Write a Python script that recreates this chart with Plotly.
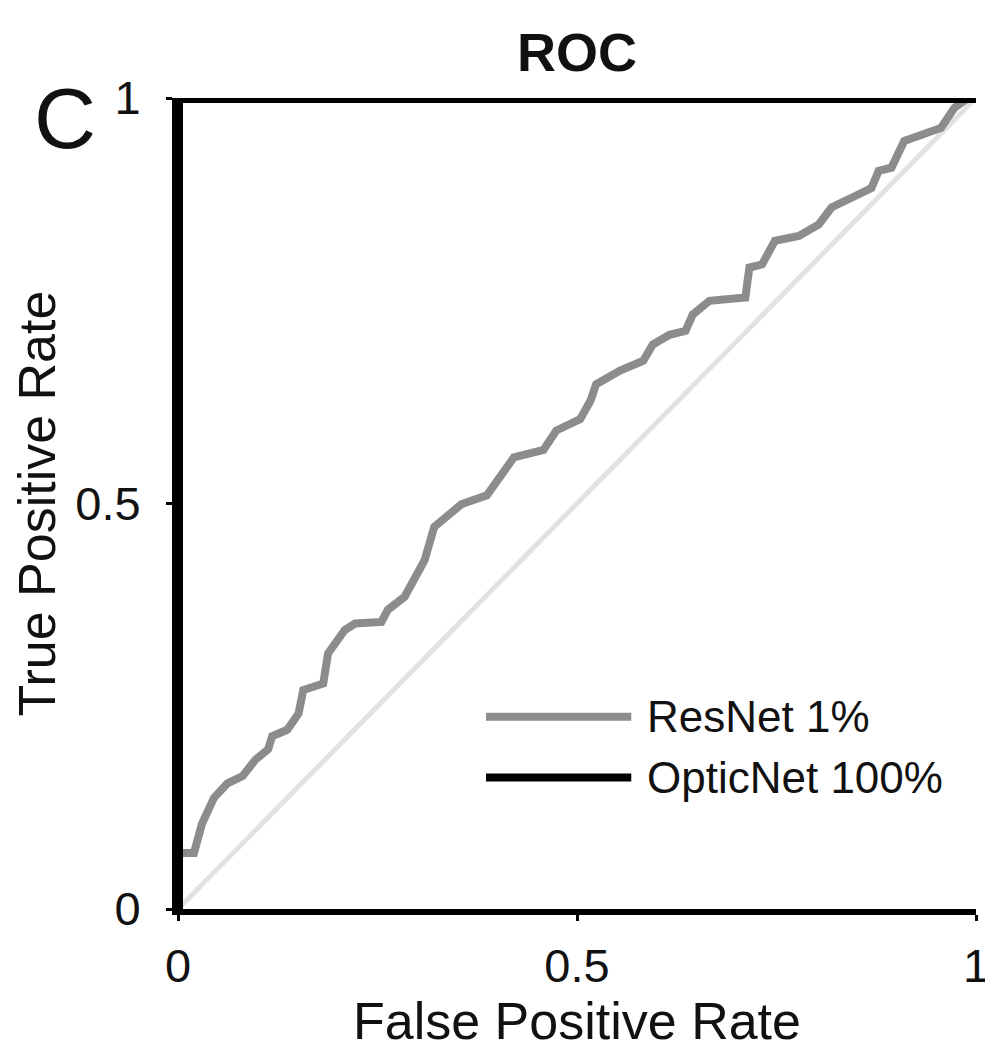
import plotly.graph_objects as go

# ResNet 1% ROC curve
resnet_fpr = [0.0, 0.0, 0.006, 0.02, 0.03, 0.045, 0.062, 0.081, 0.097, 0.113, 0.118, 0.137,
              0.151, 0.157, 0.182, 0.188, 0.209, 0.222, 0.255, 0.263, 0.284, 0.309, 0.321,
              0.337, 0.355, 0.387, 0.400, 0.421, 0.437, 0.458, 0.474, 0.504, 0.517, 0.524,
              0.554, 0.583, 0.595, 0.616, 0.636, 0.645, 0.666, 0.711, 0.716, 0.732, 0.748,
              0.778, 0.803, 0.819, 0.844, 0.869, 0.878, 0.894, 0.910, 0.940, 0.956, 0.973,
              0.990, 1.0]
resnet_tpr = [0.0, 0.065, 0.069, 0.069, 0.105, 0.137, 0.155, 0.164, 0.184, 0.197, 0.213, 0.221,
              0.241, 0.270, 0.278, 0.315, 0.344, 0.352, 0.354, 0.369, 0.385, 0.430, 0.471,
              0.483, 0.499, 0.510, 0.529, 0.557, 0.561, 0.566, 0.590, 0.604, 0.627, 0.647,
              0.664, 0.676, 0.696, 0.708, 0.713, 0.733, 0.750, 0.754, 0.791, 0.795, 0.824,
              0.830, 0.844, 0.865, 0.877, 0.889, 0.910, 0.914, 0.947, 0.959, 0.963, 0.988,
              1.0, 1.0]

# OpticNet 100% ROC curve (perfect classifier)
opticnet_fpr = [0.0, 0.0, 1.0]
opticnet_tpr = [0.0, 1.0, 1.0]

# chance diagonal
chance_fpr = [0.0, 1.0]
chance_tpr = [0.0, 1.0]

tick_vals = [0, 0.5, 1]
tick_text = ["0", "0.5", "1"]

series_names = ["ResNet 1%", "OpticNet 100%"]
series_colors = ["#8c8c8c", "#000000"]

FONT = "Liberation Sans, Arial, sans-serif"
TXT = "#111111"

fig = go.Figure()
fig.add_trace(go.Scatter(x=chance_fpr, y=chance_tpr, mode="lines",
                         line=dict(color="#e2e2e2", width=5), showlegend=False,
                         cliponaxis=False))
fig.add_trace(go.Scatter(x=resnet_fpr, y=resnet_tpr, mode="lines", name=series_names[0],
                         line=dict(color=series_colors[0], width=8), showlegend=False,
                         cliponaxis=False))
fig.add_trace(go.Scatter(x=opticnet_fpr, y=opticnet_tpr, mode="lines", name=series_names[1],
                         line=dict(color=series_colors[1], width=10), showlegend=False,
                         cliponaxis=False))

# hand-drawn legend (long line samples, as in the figure)
leg_x0, leg_x1, leg_tx = 0.386, 0.568, 0.585
leg_y = [0.237, 0.162]
for name, col, yy in zip(series_names, series_colors, leg_y):
    fig.add_shape(type="line", xref="x", yref="y", x0=leg_x0, x1=leg_x1, y0=yy, y1=yy,
                  line=dict(color=col, width=8))
    fig.add_annotation(x=leg_tx, y=yy, xref="x", yref="y", text=name, showarrow=False,
                       xanchor="left", yanchor="middle",
                       font=dict(family=FONT, size=44, color=TXT))

# panel letter
fig.add_annotation(x=-0.142, y=0.975, xref="paper", yref="paper", text="C", showarrow=False,
                   xanchor="center", yanchor="middle",
                   font=dict(family=FONT, size=86, color=TXT))

fig.update_layout(
    width=993, height=1061,
    margin=dict(l=170, r=18, t=90, b=160),
    paper_bgcolor="white", plot_bgcolor="white",
    title=dict(text="<b>ROC</b>", x=0.5, xref="paper", xanchor="center",
               y=0.9585, yref="container", yanchor="middle",
               font=dict(family=FONT, size=54, color=TXT)),
    font=dict(family=FONT, size=46, color=TXT),
)
fig.update_xaxes(range=[0, 1], tickvals=tick_vals, ticktext=tick_text, showgrid=False,
                 zeroline=False, showline=True, linecolor="black", linewidth=6,
                 ticks="outside", ticklen=6, tickwidth=3, tickcolor="black",
                 ticklabelstandoff=5,
                 title=dict(text="False Positive Rate", standoff=10,
                            font=dict(family=FONT, size=52, color=TXT)),
                 tickfont=dict(family=FONT, size=47, color=TXT))
fig.update_yaxes(range=[0, 1], tickvals=tick_vals, ticktext=tick_text, showgrid=False,
                 zeroline=False, showline=True, linecolor="black", linewidth=6,
                 ticks="outside", ticklen=6, tickwidth=3, tickcolor="black",
                 ticklabelstandoff=16,
                 title=dict(text="True Positive Rate", standoff=12,
                            font=dict(family=FONT, size=52, color=TXT)),
                 tickfont=dict(family=FONT, size=47, color=TXT))

fig.write_html("out.html")
